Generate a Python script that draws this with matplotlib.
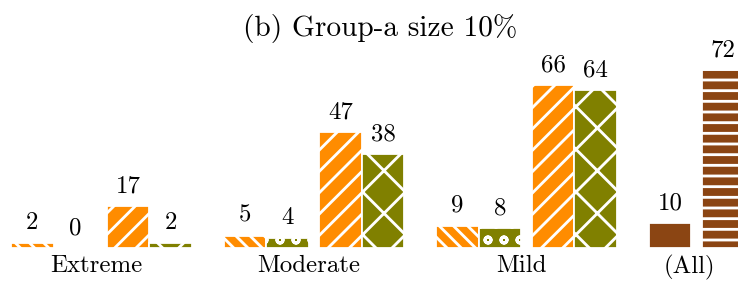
import numpy as np
import matplotlib.pyplot as plt

# high dpi, small figure: gives hatch spacing like the reference
DPI = 384
k = 128 / DPI

plt.rcParams['font.family'] = 'serif'
plt.rcParams['font.serif'] = ['cmr10']
plt.rcParams['mathtext.fontset'] = 'cm'
plt.rcParams['axes.unicode_minus'] = False
plt.rcParams['hatch.linewidth'] = 1.6 * k

groups = ['Extreme', 'Moderate', 'Mild']
s1 = [2, 5, 9]       # orange, backslash
s2 = [0, 4, 8]       # olive, circles
s3 = [17, 47, 66]    # orange, slash
s4 = [2, 38, 64]     # olive, cross
all_vals = [10, 72]  # brown

orange = '#ff8c00'
olive = '#808000'
brown = '#8b4513'

fig = plt.figure(figsize=(738/DPI, 282/DPI), dpi=DPI)
ax = fig.add_axes([0, 34/282, 1, 198/282])

x = np.arange(len(groups))
w = 0.2
series = [(s1, -0.3, orange, '\\' * 9), (s2, -0.1, olive, 'oooo'),
          (s3, 0.15, orange, '//////'), (s4, 0.35, olive, 'xxx')]
for vals, off, col, h in series:
    bars = ax.bar(x + off, vals, w, color=col, edgecolor='white',
                  linewidth=1.0 * k, hatch=h)
    for b, v in zip(bars, vals):
        ax.annotate(str(v), (b.get_x() + b.get_width()/2, v),
                    xytext=(0, 5 * k), textcoords='offset points',
                    ha='center', va='bottom', fontsize=14 * k)

xa = np.array([3 - 0.3, 3 - 0.05])
bars = ax.bar(xa, all_vals, w, color=brown, edgecolor='white', linewidth=1.0 * k)
bars[1].set_hatch('------')
for b, v in zip(bars, all_vals):
    ax.annotate(str(v), (b.get_x() + b.get_width()/2, v),
                xytext=(0, 5 * k), textcoords='offset points',
                ha='center', va='bottom', fontsize=14 * k)

ax.set_xticks(list(x) + [2.79])
ax.set_xticklabels(groups + ['(All)'], fontsize=14 * k)
ax.tick_params(axis='x', length=0, pad=4 * k)
ax.set_yticks([])
for s in ax.spines.values():
    s.set_visible(False)
ax.set_xlim(-0.452, 3.02)
ax.set_ylim(0, 80.2)

fig.text(380/738, 1 - 28/282, '(b) Group-a size 10%', ha='center', va='center',
         fontsize=16.5 * k)

plt.savefig('out.png', dpi=DPI)
